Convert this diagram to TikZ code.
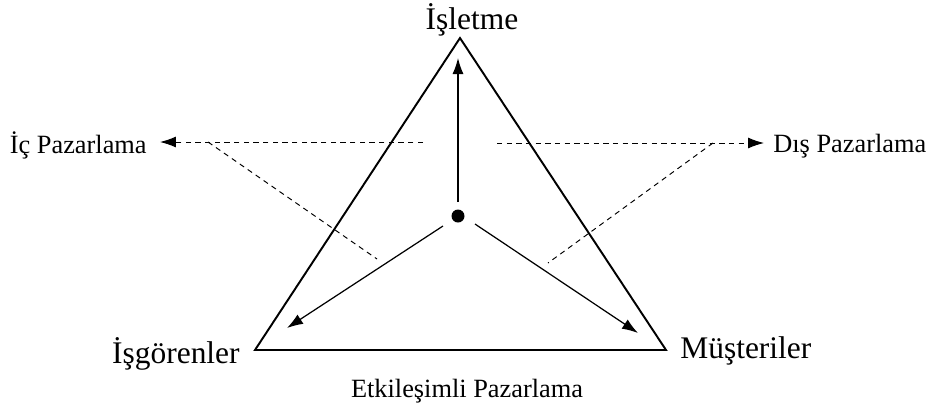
\documentclass[tikz,border=0pt]{standalone}
\usepackage{fontspec}
\setmainfont{Liberation Serif}
\usepackage{tikz}
\usetikzlibrary{arrows.meta,positioning}

\begin{document}
\begin{tikzpicture}[x=0.02cm, y=-0.02cm,
      big/.style={font=\fontsize{17.9}{22}\selectfont, inner sep=0pt},
      small/.style={font=\fontsize{15}{18}\selectfont, inner sep=0pt},
      tri/.style={line width=1.1pt, line join=miter},
      ar/.style={line width=0.7pt, -{Latex[length=3.2mm, width=2.2mm]}},
      dsh/.style={line width=0.55pt, dash pattern=on 3pt off 2.5pt}]
    \useasboundingbox (0,0) rectangle (931,407);
    % triangle
    \coordinate (top) at (460,38);
    \coordinate (lft) at (255,350);
    \coordinate (rgt) at (666,350);
    \draw[tri] (top) -- (lft) -- (rgt) -- cycle;
    \node[big, anchor=base] (isl) at (472,29) {İşletme};
    \node[big, anchor=base east] (isg) at (240,363) {İşgörenler};
    \node[big, anchor=base west] (mus) at (680,358) {Müşteriler};
    \node[small, anchor=base] (etk) at (467,397) {Etkileşimli Pazarlama};
    % centre and arrows
    \node[circle, fill=black, inner sep=0pt, minimum size=0.26cm] (mid) at (458,216) {};
    \coordinate (tipT) at (458,58);
    \coordinate (tipL) at (287,328);
    \coordinate (tipR) at (638,333);
    \draw[ar] (mid.north) ++(0,-7) -- (tipT);
    \draw[ar] (443,226) -- (tipL);
    \draw[ar] (475,224) -- (tipR);
    % inner / outer marketing
    \node[small, anchor=base east, inner xsep=2.6mm] (ic) at (160,153) {İç Pazarlama};
    \node[small, anchor=base west, inner xsep=1.8mm] (dis) at (764,152) {Dış Pazarlama};
    \coordinate (icA) at (423,142);
    \coordinate (icB) at (208,142);
    \coordinate (icC) at (377,259);
    \coordinate (disA) at (497,143);
    \coordinate (disB) at (713,143);
    \coordinate (disC) at (548,263);
    \draw[dsh, -{Latex[length=3.2mm, width=2.2mm]}] (icA) -- (icA -| ic.east);
    \draw[dsh] (icB) -- (icC);
    \draw[dsh, -{Latex[length=3.2mm, width=2.2mm]}] (disA) -- (disA -| dis.west);
    \draw[dsh] (disB) -- (disC);
\end{tikzpicture}
\end{document}
